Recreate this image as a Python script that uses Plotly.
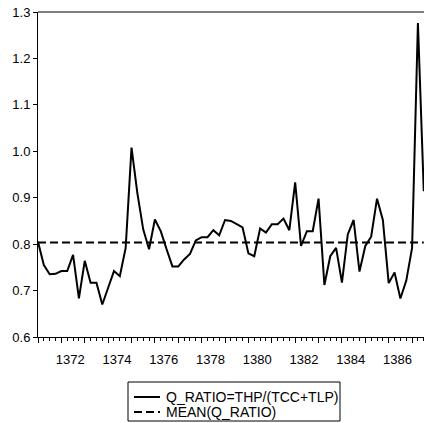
import numpy as np
import plotly.graph_objects as go

# Quarterly series starting 1371Q1
start_year = 1371
q_ratio = [0.805, 0.755, 0.735, 0.736, 0.742, 0.742, 0.777, 0.683, 0.764, 0.717,
           0.717, 0.670, 0.706, 0.742, 0.731, 0.792, 1.008, 0.910, 0.832, 0.789,
           0.853, 0.828, 0.789, 0.752, 0.752, 0.767, 0.779, 0.808, 0.815, 0.815,
           0.830, 0.819, 0.852, 0.850, 0.843, 0.836, 0.780, 0.774, 0.834, 0.825,
           0.843, 0.843, 0.855, 0.830, 0.933, 0.796, 0.828, 0.828, 0.898, 0.712,
           0.774, 0.792, 0.717, 0.821, 0.852, 0.741, 0.796, 0.816, 0.898, 0.852,
           0.716, 0.739, 0.683, 0.721, 0.792, 1.276, 0.914]
year_labels = ["1372", "1374", "1376", "1378", "1380", "1382", "1384", "1386"]
y_ticks = [0.6, 0.7, 0.8, 0.9, 1.0, 1.1, 1.2, 1.3]
series_names = ["Q_RATIO=THP/(TCC+TLP)", "MEAN(Q_RATIO)"]

t = [start_year + i / 4 for i in range(len(q_ratio))]
mean_val = float(np.mean(q_ratio))
label_pos = [int(y) + 0.375 for y in year_labels]
year_ticks = list(range(start_year, start_year + len(q_ratio) // 4 + 1))

FAM = "Liberation Sans, Arial, sans-serif"
font = dict(family=FAM, size=13, color="black")
xr = [t[0], t[-1] + 0.01]
dash_style = "8px,4px"

fig = go.Figure()
fig.add_trace(go.Scatter(x=t, y=q_ratio, mode="lines", name=series_names[0],
                         line=dict(color="black", width=2)))
fig.add_trace(go.Scatter(x=t, y=[mean_val] * len(t), mode="lines", name=series_names[1],
                         line=dict(color="black", width=2, dash=dash_style)))

# legend drawn as a boxed key below the plot (paper coordinates)
box = dict(x0=0.2332, x1=0.7824, y0=-0.2585, y1=-0.1385)
rows_y = [-0.1846, -0.2308]
shapes = [dict(type="line", xref="paper", yref="paper", x0=0, x1=1, y0=1, y1=1,
               line=dict(color="black", width=1)),
          dict(type="rect", xref="paper", yref="paper", **box,
               line=dict(color="black", width=1), fillcolor="white")]
annotations = []
for name, ry, dsh in zip(series_names, rows_y, ["solid", dash_style]):
    shapes.append(dict(type="line", xref="paper", yref="paper", x0=0.2487, x1=0.3161,
                       y0=ry, y1=ry, line=dict(color="black", width=2, dash=dsh)))
    annotations.append(dict(xref="paper", yref="paper", x=0.327, y=ry, text=name,
                            showarrow=False, xanchor="left", yanchor="middle",
                            font=dict(family=FAM, size=14, color="black")))

fig.update_layout(
    width=424, height=423,
    margin=dict(l=38, r=0, t=12, b=86, autoexpand=False),
    paper_bgcolor="white", plot_bgcolor="white",
    font=font,
    showlegend=False,
    xaxis=dict(range=xr, showgrid=False, zeroline=False, showline=True,
               linecolor="black", linewidth=1,
               tickvals=label_pos, ticktext=year_labels, ticks="",
               ticklabelstandoff=10,
               minor=dict(tickvals=t, ticks="outside", ticklen=3, tickcolor="black", tickwidth=1)),
    xaxis2=dict(range=xr, overlaying="x", side="bottom", anchor="y",
                showgrid=False, zeroline=False, showline=False,
                tickvals=year_ticks, ticks="outside", ticklen=5, tickcolor="black",
                tickwidth=1, showticklabels=False),
    yaxis=dict(range=[0.6, 1.3], showgrid=False, zeroline=False, showline=True,
               linecolor="black", linewidth=1, tickvals=y_ticks,
               ticktext=[f"{v:.1f}" for v in y_ticks],
               ticks="outside", ticklen=4, tickcolor="black"),
    shapes=shapes,
    annotations=annotations,
)
# invisible trace to activate xaxis2 (year tick marks)
fig.add_trace(go.Scatter(x=[t[0]], y=[0.6], xaxis="x2", mode="markers",
                         marker=dict(opacity=0), showlegend=False, hoverinfo="skip"))

fig.write_html("out.html")
